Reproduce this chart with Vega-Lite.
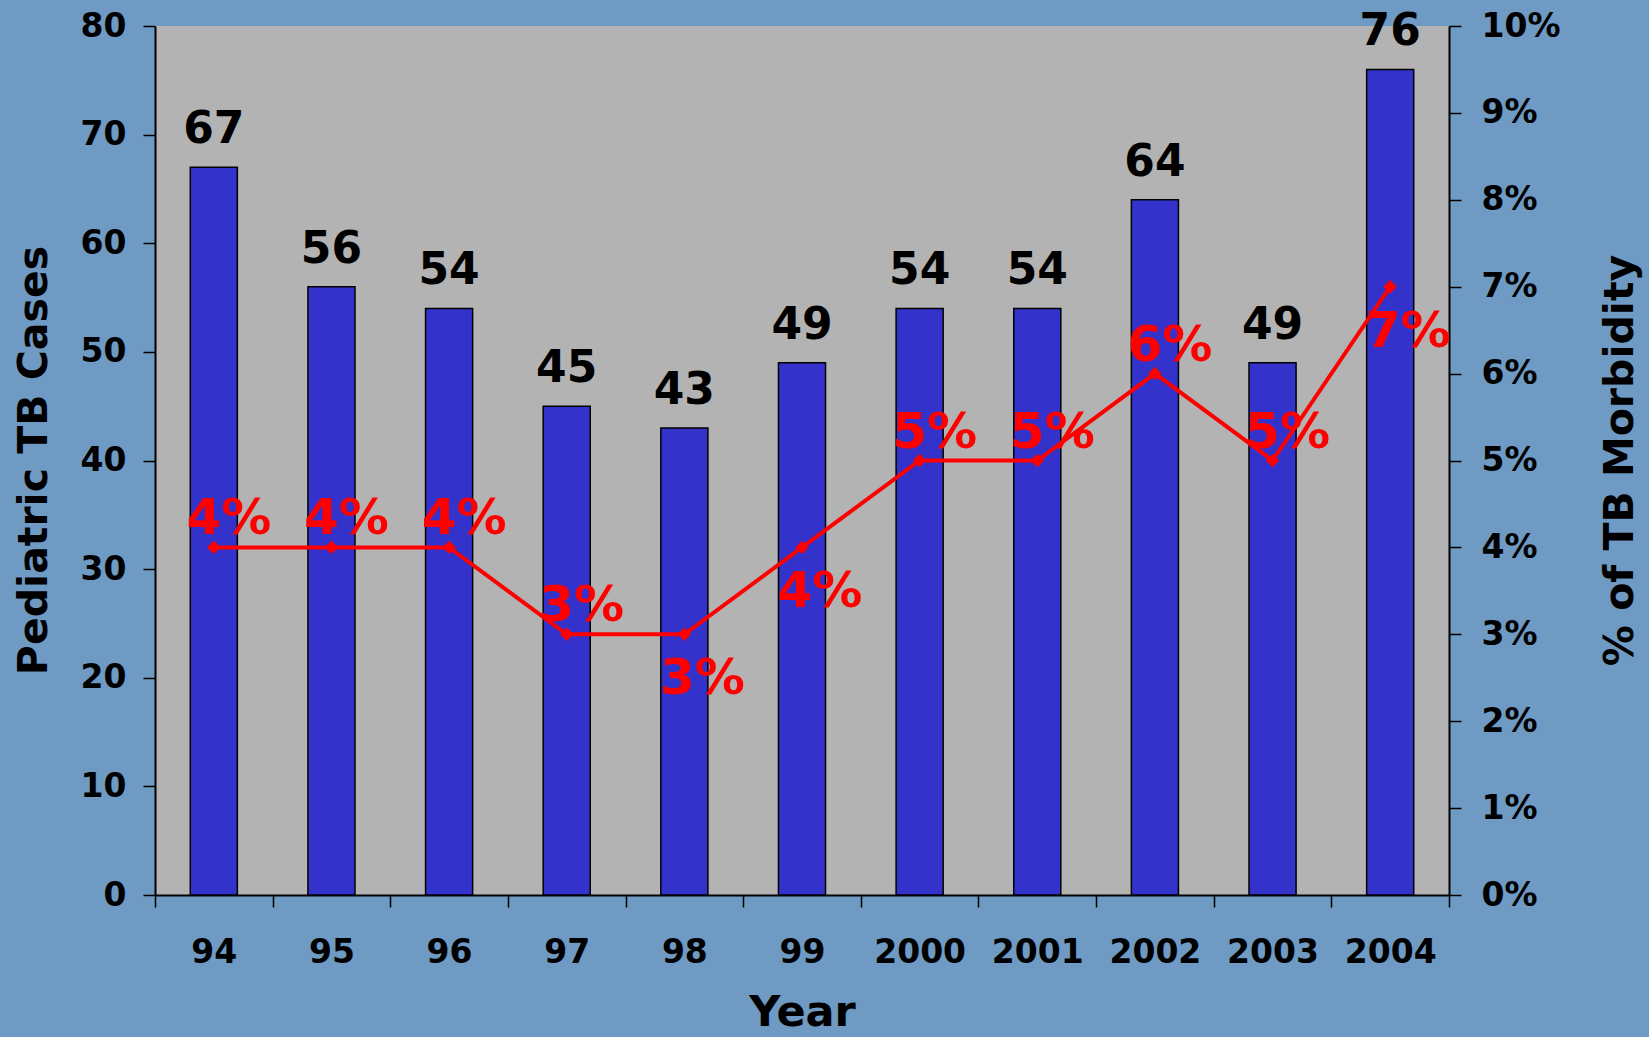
{
  "$schema": "https://vega.github.io/schema/vega-lite/v6.json",
  "autosize": "none",
  "padding": {"left": 155, "top": 26, "right": 200, "bottom": 142},
  "width": 1294,
  "height": 869,
  "background": "#6e9ac3",
  "config": {
    "view": {"fill": "#b3b3b3", "stroke": null},
    "font": "DejaVu Sans",
    "axis": {
      "labelFont": "DejaVu Sans", "labelFontWeight": "bold", "labelFontSize": 33, "labelColor": "#000000",
      "titleFont": "DejaVu Sans", "titleFontWeight": "bold", "titleFontSize": 41, "titleColor": "#000000",
      "domainColor": "#000000", "domainWidth": 2, "tickColor": "#000000", "tickWidth": 1.5, "tickSize": 12,
      "grid": false
    }
  },
  "data": {"values": [
    {"year": "94", "cases": 67, "pct": 0.04},
    {"year": "95", "cases": 56, "pct": 0.04},
    {"year": "96", "cases": 54, "pct": 0.04},
    {"year": "97", "cases": 45, "pct": 0.03},
    {"year": "98", "cases": 43, "pct": 0.03},
    {"year": "99", "cases": 49, "pct": 0.04},
    {"year": "2000", "cases": 54, "pct": 0.05},
    {"year": "2001", "cases": 54, "pct": 0.05},
    {"year": "2002", "cases": 64, "pct": 0.06},
    {"year": "2003", "cases": 49, "pct": 0.05},
    {"year": "2004", "cases": 76, "pct": 0.07}
  ]},
  "encoding": {
    "x": {
      "field": "year", "type": "ordinal", "sort": null,
      "scale": {"paddingInner": 0, "paddingOuter": 0},
      "axis": {
        "title": "Year", "labelAngle": 0, "tickBand": "extent", "labelPadding": 29,
        "titleX": 647, "titleY": 130, "titleBaseline": "alphabetic", "titleFontSize": 43
      }
    }
  },
  "layer": [
    {
      "encoding": {
        "y": {
          "field": "cases", "type": "quantitative",
          "scale": {"domain": [0, 80], "nice": false},
          "axis": {
            "orient": "left", "title": "Pediatric TB Cases", "values": [0, 10, 20, 30, 40, 50, 60, 70, 80],
            "labelPadding": 17, "titleAngle": -90, "titleX": -121, "titleY": 434, "titleBaseline": "middle", "titleAlign": "center"
          }
        }
      },
      "layer": [
        {"mark": {"type": "bar", "width": {"band": 0.4}, "fill": "#3333cc", "stroke": "#000000", "strokeWidth": 1.5}},
        {"mark": {"type": "text", "baseline": "alphabetic", "dy": -24, "fontSize": 44, "fontWeight": "bold", "color": "#000000", "font": "DejaVu Sans"},
         "encoding": {"text": {"field": "cases", "type": "quantitative"}}}
      ]
    },
    {
      "encoding": {
        "y": {
          "field": "pct", "type": "quantitative",
          "scale": {"domain": [0, 0.1], "nice": false},
          "axis": {
            "orient": "right", "title": "% of TB Morbidity", "format": ".0%",
            "values": [0, 0.01, 0.02, 0.03, 0.04, 0.05, 0.06, 0.07, 0.08, 0.09, 0.1],
            "labelPadding": 20, "titleAngle": -90, "titleX": 171, "titleY": 434, "titleBaseline": "middle", "titleAlign": "center"
          }
        }
      },
      "layer": [
        {"mark": {"type": "line", "color": "#ff0000", "strokeWidth": 4}},
        {"mark": {"type": "point", "shape": "diamond", "filled": true, "color": "#ff0000", "size": 180, "opacity": 1}},
        {"transform": [{"filter": {"not": {"field": "year", "oneOf": ["98", "99", "2004"]}}}],
         "mark": {"type": "text", "baseline": "middle", "dx": 15, "dy": -28, "fontSize": 50, "fontWeight": "bold", "color": "#ff0000", "font": "DejaVu Sans"},
         "encoding": {"text": {"field": "pct", "type": "quantitative", "format": ".0%"}}},
        {"transform": [{"filter": {"field": "year", "oneOf": ["98", "99", "2004"]}}],
         "mark": {"type": "text", "baseline": "middle", "dx": 18, "dy": 45, "fontSize": 50, "fontWeight": "bold", "color": "#ff0000", "font": "DejaVu Sans"},
         "encoding": {"text": {"field": "pct", "type": "quantitative", "format": ".0%"}}}
      ]
    }
  ],
  "resolve": {"scale": {"y": "independent"}}
}
